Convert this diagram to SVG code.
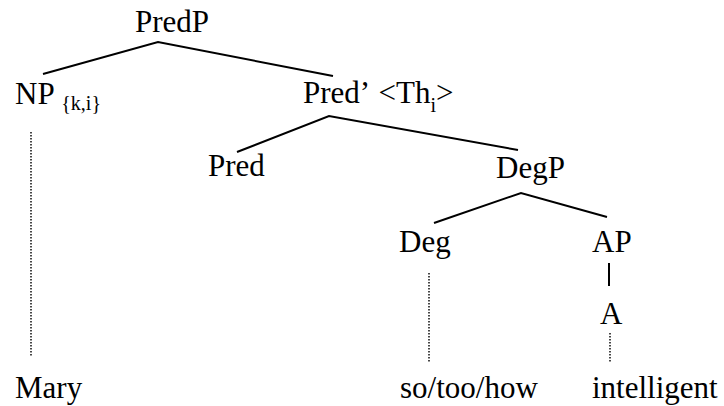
<svg xmlns="http://www.w3.org/2000/svg" width="724" height="406" viewBox="0 0 724 406">
  <style>
    text { font-family: 'Liberation Serif', 'DejaVu Serif', serif; font-size: 31px; fill: #000; }
    .sub { font-size: 20px; }
    .edge { stroke: #000; stroke-width: 2; fill: none; stroke-linecap: butt; }
    .dots { stroke: #333; stroke-width: 1.8; stroke-dasharray: 1.5 1.5; fill: none; }
  </style>
  <rect width="724" height="406" fill="#fff"/>

  <!-- tree branches and dotted lexical links -->
  <g id="connectors">
    <polyline class="edge" points="43,74 158,42 333,76"/>
    <polyline class="edge" points="237,152 329,116 518,150"/>
    <polyline class="edge" points="434,223 521,193 607,217"/>
    <line class="edge" x1="609" y1="263" x2="609" y2="286"/>
    <line class="dots" x1="31" y1="132" x2="31" y2="357"/>
    <line class="dots" x1="429" y1="273" x2="429" y2="363"/>
    <line class="dots" x1="610" y1="333" x2="610" y2="363"/>
  </g>

  <g font-family="Liberation Serif, serif">
    <g id="PredP"><text x="135" y="32">PredP</text></g>
    <g id="NP"><text x="15" y="104">NP <tspan class="sub" dy="6">{k,i}</tspan></text></g>
    <g id="PredBar"><text x="303" y="103">Pred’ <tspan dx="3">&lt;Th</tspan><tspan class="sub" dy="9">i</tspan><tspan dy="-9">&gt;</tspan></text></g>
    <g id="Pred"><text x="208" y="176">Pred</text></g>
    <g id="DegP"><text x="496" y="178">DegP</text></g>
    <g id="Deg"><text x="399" y="252">Deg</text></g>
    <g id="AP"><text x="592" y="252">AP</text></g>
    <g id="A"><text x="600" y="324">A</text></g>
    <g id="Mary"><text x="15" y="398">Mary</text></g>
    <g id="sotoohow"><text x="400" y="398">so/too/how</text></g>
    <g id="intelligent"><text x="592" y="398">intelligent</text></g>
  </g>
</svg>
